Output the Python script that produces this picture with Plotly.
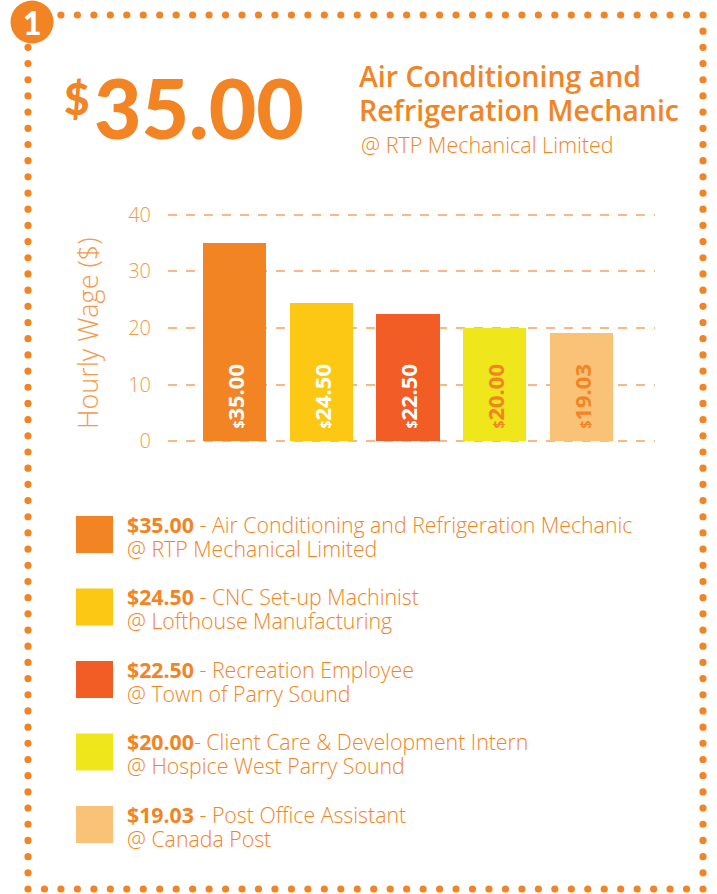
import plotly.graph_objects as go

# ---- data ----
wages = [35.00, 24.50, 22.50, 20.00, 19.03]
wage_labels = ["$35.00", "$24.50", "$22.50", "$20.00", "$19.03"]
jobs = ["Air Conditioning and Refrigeration Mechanic", "CNC Set-up Machinist",
        "Recreation Employee", "Client Care & Development Intern", "Post Office Assistant"]
employers = ["RTP Mechanical Limited", "Lofthouse Manufacturing", "Town of Parry Sound",
             "Hospice West Parry Sound", "Canada Post"]
bar_colors = ["#F28424", "#FCC813", "#F15D24", "#EFE61C", "#FAC276"]
label_colors = ["#FFFFFF", "#FFFFFF", "#FFFFFF", "#F28424", "#F28424"]
y_ticks = [0, 10, 20, 30, 40]

W, H = 717, 894
ORANGE = "#F28424"
TICK = "#F59A4A"
BODY = "Open Sans"
HEAVY = "Lato"


def px(x):
    return x / W


def py(y):
    return 1 - y / H


bar_text = ["\u00a0\u2009<span style='font-size:14px'>$</span>" + s[1:] for s in wage_labels]

fig = go.Figure()
fig.add_trace(go.Bar(
    x=list(range(len(wages))), y=wages,
    marker=dict(color=bar_colors, line=dict(width=0)),
    width=0.73,
    text=bar_text, textposition="inside", insidetextanchor="start",
    textangle=-90,
    textfont=dict(family=BODY, size=22, color=label_colors, weight="bold"),
    hoverinfo="skip", showlegend=False,
))

# plot area in page pixels: x 168..655, y 212..444
fig.update_layout(
    width=W, height=H,
    margin=dict(l=0, r=0, t=0, b=0, autoexpand=False),
    paper_bgcolor="white", plot_bgcolor="white",
    showlegend=False,
    bargap=0,
    xaxis=dict(domain=[px(168), px(655)], range=[-0.767, 4.85],
               showticklabels=False, showgrid=False, zeroline=False, showline=False),
    yaxis=dict(domain=[py(444), py(212)], range=[-0.5, 40.5],
               tickvals=y_ticks, ticktext=[str(v) for v in y_ticks],
               tickfont=dict(family=BODY, size=20, color=TICK, weight=300),
               ticks="", ticklabelstandoff=16, automargin=False,
               showgrid=True, gridcolor="#F9B886", gridwidth=1.5, griddash="dash",
               zeroline=False, showline=False),
)

annotations = []
shapes = []

# y-axis title
annotations.append(dict(x=px(87), y=py(333), xref="paper", yref="paper",
                        xanchor="center", yanchor="middle",
                        text="Hourly Wage ($)", textangle=-90, showarrow=False,
                        font=dict(family=BODY, size=27, color=TICK, weight=300)))

# big wage headline
annotations.append(dict(x=px(62), y=py(70), xref="paper", yref="paper",
                        xanchor="left", yanchor="top", text="$", showarrow=False,
                        font=dict(family=HEAVY, size=44, color=ORANGE, weight=900)))
annotations.append(dict(x=px(92), y=py(107), xref="paper", yref="paper",
                        xanchor="left", yanchor="middle", text=wage_labels[0][1:],
                        showarrow=False,
                        font=dict(family=HEAVY, size=82, color=ORANGE, weight=900)))

# headline job title
annotations.append(dict(x=px(357), y=py(76), xref="paper", yref="paper",
                        xanchor="left", yanchor="middle", text="Air Conditioning and",
                        showarrow=False, font=dict(family=BODY, size=28.5, color=ORANGE, weight=600)))
annotations.append(dict(x=px(357), y=py(110), xref="paper", yref="paper",
                        xanchor="left", yanchor="middle", text="Refrigeration Mechanic",
                        showarrow=False, font=dict(family=BODY, size=28.5, color=ORANGE, weight=600)))
annotations.append(dict(x=px(359), y=py(144), xref="paper", yref="paper",
                        xanchor="left", yanchor="middle", text="@ " + employers[0],
                        showarrow=False, font=dict(family=BODY, size=21.5, color=ORANGE, weight=300)))

# manual legend
for i in range(len(wages)):
    top = 516 + 72.5 * i
    shapes.append(dict(type="rect", xref="paper", yref="paper", layer="below",
                       x0=px(76), x1=px(113), y0=py(top + 37), y1=py(top),
                       fillcolor=bar_colors[i], line=dict(width=0)))
    sep = "- " if i == 3 else " - "
    annotations.append(dict(x=px(125), y=py(top + 8), xref="paper", yref="paper",
                            xanchor="left", yanchor="middle", showarrow=False,
                            text="<b>" + wage_labels[i] + "</b>" + sep + jobs[i],
                            font=dict(family=BODY, size=21.3, color=ORANGE, weight=300)))
    annotations.append(dict(x=px(125), y=py(top + 32), xref="paper", yref="paper",
                            xanchor="left", yanchor="middle", showarrow=False,
                            text="@ " + employers[i],
                            font=dict(family=BODY, size=21.3, color=ORANGE, weight=300)))

# numbered badge
cx, cy, r = 32, 22, 21.5
shapes.append(dict(type="circle", xref="paper", yref="paper", layer="below",
                   x0=px(cx - r), x1=px(cx + r), y0=py(cy + r), y1=py(cy - r),
                   fillcolor=ORANGE, line=dict(width=0)))
annotations.append(dict(x=px(cx), y=py(cy + 1), xref="paper", yref="paper",
                        xanchor="center", yanchor="middle",
                        text="1", showarrow=False,
                        font=dict(family=HEAVY, size=32, color="white", weight=900)))

# dotted frame
L, R, T, B = 28, 703, 15, 889
dr = 3.6
nx, ny = 41, 54
dots = []
for k in range(nx + 1):
    x = L + (R - L) * k / nx
    if x > 60:
        dots.append((x, T))
    dots.append((x, B))
for k in range(1, ny):
    y = T + (B - T) * k / ny
    if y > 44:
        dots.append((L, y))
    dots.append((R, y))
for (x, y) in dots:
    shapes.append(dict(type="circle", xref="paper", yref="paper", layer="below",
                       x0=px(x - dr), x1=px(x + dr), y0=py(y + dr), y1=py(y - dr),
                       fillcolor=ORANGE, line=dict(width=0)))

fig.update_layout(annotations=annotations, shapes=shapes)
fig.write_html("out.html",
               config=dict(displayModeBar=False),
               post_script="document.body.style.margin='0';document.body.style.overflow='hidden';")
